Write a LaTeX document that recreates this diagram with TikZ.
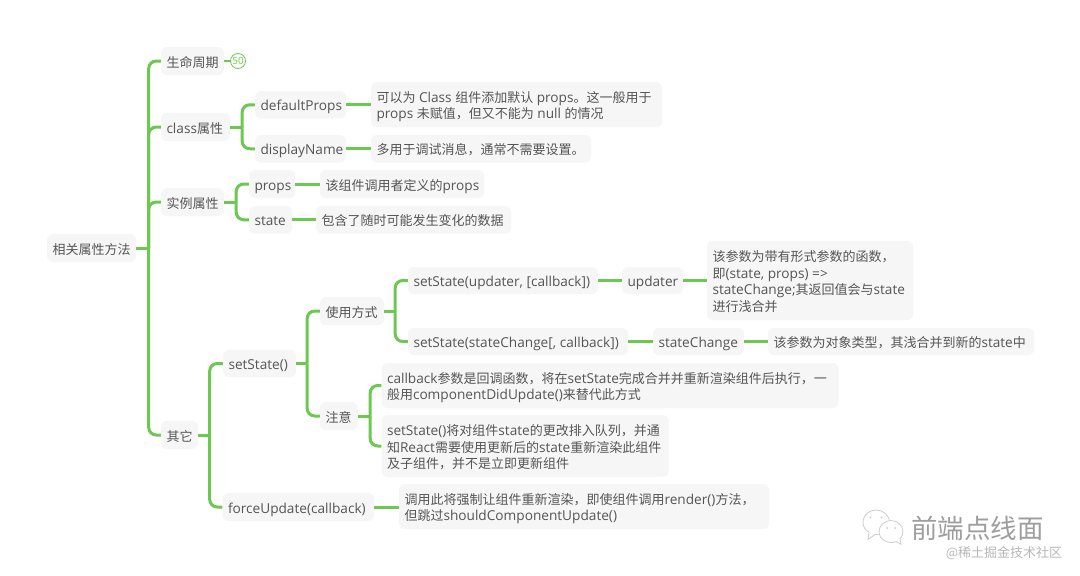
\documentclass[tikz,border=0pt]{standalone}
\usepackage{fontspec}
\setmainfont[Scale=1.05]{Open Sans}
\newfontfamily\cjk{Noto Sans CJK SC}
\newcommand{\cj}[1]{{\cjk #1}}
\definecolor{linegreen}{HTML}{6CC850}
\definecolor{boxfill}{HTML}{F6F6F6}
\definecolor{inktext}{HTML}{555555}
\tikzset{
  mmbox/.style={fill=boxfill,rounded corners=6pt,inner xsep=5.5pt,inner ysep=0pt,align=flush left,text=inktext,font=\fontsize{13}{16.8}\selectfont,
    execute at begin node={\rule{0pt}{16pt}},execute at end node={\rule[-4pt]{0pt}{4pt}}},
  conn/.style={draw=linegreen,line width=3pt,line cap=butt},
  bendline/.style={conn,rounded corners=7.5pt},
  wmicon/.style={draw=black!20,fill=white,line width=0.8pt},
}
% name, x1, y1, x2, y2, text
\newcommand{\mm}[6]{%
  \pgfmathsetmacro{\cxx}{(#2+#4)/2}\pgfmathsetmacro{\cyy}{(#3+#5)/2}%
  \pgfmathsetmacro{\ww}{#4-#2-11}\pgfmathsetmacro{\hh}{#5-#3}%
  \node[mmbox,text width=\ww pt,minimum height=\hh pt] (#1) at (\cxx,\cyy) {#6};}
\newcommand{\stem}[2]{\draw[conn] (#1.east) -- ++(#2,0);}
\newcommand{\branch}[3]{\draw[bendline] (#1.east) ++(#2,0) |- (#3.west);}
\newcommand{\direct}[2]{\draw[conn] (#1.east) -- (#2.west |- #1.east);}
\begin{document}
\begin{tikzpicture}[x=1pt,y=-1pt]
\useasboundingbox (0,0) rectangle (1080,576);
\fill[white] (0,0) rectangle (1080,576);
\mm{root}{47}{234}{136}{262}{\cj{相关属性方法}}
\mm{life}{161}{47}{224}{75}{\cj{生命周期}}
\mm{cls}{161}{113}{230}{141}{class\cj{属性}}
\mm{inst}{161}{188}{224}{216}{\cj{实例属性}}
\mm{other}{161}{421}{198}{449}{\cj{其它}}
\mm{defp}{255}{91}{346}{118.5}{defaultProps}
\mm{disp}{255}{135}{346}{162.5}{displayName}
\mm{props}{249}{170}{295}{198}{props}
\mm{state}{249}{206}{292}{233.5}{state}
\mm{defd}{371}{82}{662}{127}{\cj{可以为} Class \cj{组件添加默认} props\cj{。这一般用于}\\props \cj{未赋值，但又不能为} null \cj{的情况}}
\mm{dispd}{371}{135}{591}{162.5}{\cj{多用于调试消息，通常不需要设置。}}
\mm{propsd}{320}{170}{484}{198}{\cj{该组件调用者定义的}props}
\mm{stated}{316}{206}{511}{233.5}{\cj{包含了随时可能发生变化的数据}}
\mm{sets}{223}{350}{296}{377}{setState()}
\mm{force}{222.5}{493}{374}{521}{forceUpdate(callback)}
\mm{usage}{320}{297}{384}{325}{\cj{使用方式}}
\mm{note}{320}{402}{357.5}{430}{\cj{注意}}
\mm{sup}{408}{267}{598}{294}{setState(updater, [callback])}
\mm{ssc}{408}{328}{628}{355}{setState(stateChange[, callback])}
\mm{upd}{622}{267}{683}{294}{updater}
\mm{updd}{707}{241}{913}{320}{\cj{该参数为带有形式参数的函数，}\\\cj{即}(state, props) =>\\stateChange;\cj{其返回值会与}state\\\cj{进行浅合并}}
\mm{sc}{653}{328}{744}{355}{stateChange}
\mm{scd}{768}{328}{1034}{355}{\cj{该参数为对象类型，其浅合并到新的}state\cj{中}}
\mm{cbd}{381.5}{363}{838.5}{408}{callback\cj{参数是回调函数，将在}setState\cj{完成合并并重新渲染组件后执行，一}\\\cj{般用}componentDidUpdate()\cj{来替代此方式}}
\mm{ssd}{381.5}{415}{668.5}{477}{setState()\cj{将对组件}state\cj{的更改排入队列，并通}\\\cj{知}React\cj{需要使用更新后的}state\cj{重新渲染此组件}\\\cj{及子组件，并不是立即更新组件}}
\mm{fd}{399}{484}{769}{529}{\cj{调用此将强制让组件重新渲染，即使组件调用}render()\cj{方法，}\\\cj{但跳过}shouldComponentUpdate()}
% connectors
\stem{root}{12.5}
\branch{root}{12.5}{life}\branch{root}{12.5}{cls}\branch{root}{12.5}{inst}\branch{root}{12.5}{other}
\stem{cls}{12}
\branch{cls}{12}{defp}\branch{cls}{12}{disp}
\stem{inst}{12}
\branch{inst}{12}{props}\branch{inst}{12}{state}
\stem{other}{11.5}
\branch{other}{11.5}{sets}\branch{other}{11.5}{force}
\stem{sets}{11}
\branch{sets}{11}{usage}\branch{sets}{11}{note}
\stem{usage}{11}
\branch{usage}{11}{sup}\branch{usage}{11}{ssc}
\stem{note}{12.5}
\branch{note}{12.5}{cbd}\branch{note}{12.5}{ssd}
\direct{defp}{defd}\direct{disp}{dispd}\direct{props}{propsd}\direct{state}{stated}
\direct{sup}{upd}\direct{upd}{updd}\direct{ssc}{sc}\direct{sc}{scd}\direct{force}{fd}
% marker
\node[circle,draw=linegreen,fill=white,line width=0.8pt,minimum size=15pt,inner sep=0pt,text=linegreen,font=\fontsize{9.5}{10}\selectfont] (badge) at (238,61) {50};
\draw[conn,line width=2.5pt] (life.east) -- (badge.west);
% watermark
\draw[wmicon] (869,532) -- (868,539.5) -- (875,534.5) .. controls (884,535) and (889.5,529) .. (889.5,522.5) .. controls (889.5,515) and (883,510) .. (876,510) .. controls (869,510) and (863,515) .. (863,522.5) .. controls (863,526.5) and (865,530) .. (869,532) -- cycle;
\draw[wmicon] (891,520.5) .. controls (884.5,520.5) and (879,525.5) .. (879,531.5) .. controls (879,538) and (884.5,542.5) .. (891,542.5) .. controls (893,542.5) and (895,542) .. (896.5,541.5) -- (901,544.5) -- (900,538.5) .. controls (902,536.5) and (903,534) .. (903,531.5) .. controls (903,525.5) and (897.5,520.5) .. (891,520.5) -- cycle;
\fill[black!20] (870.5,517.5) circle (1pt) (881.5,517.5) circle (1pt) (887,528) circle (1pt) (895,528) circle (1pt);
\node[inner sep=0pt,text=black!38,font=\cjk\fontsize{26.5}{28}\selectfont] (wmtitle) at (977.5,528.5) {前端点线面};
\node[inner sep=0pt,text=black!28,font=\cjk\fontsize{13}{14}\selectfont] (wmsite) at (1004,553.5) {@稀土掘金技术社区};
\end{tikzpicture}
\end{document}
